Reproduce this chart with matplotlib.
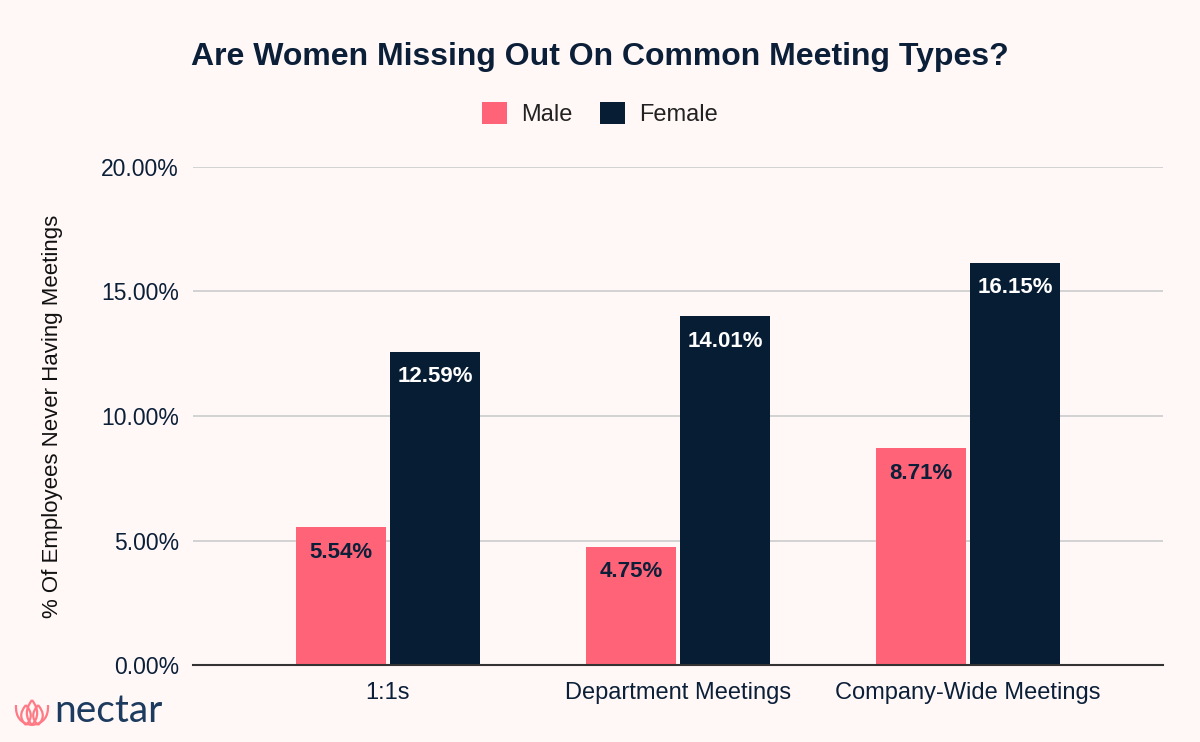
import matplotlib
matplotlib.use("Agg")
import matplotlib.pyplot as plt
import numpy as np
from matplotlib.path import Path
from matplotlib.patches import PathPatch

categories = ["1:1s", "Department Meetings", "Company-Wide Meetings"]
male = [5.54, 4.75, 8.71]
female = [12.59, 14.01, 16.15]
series_names = ["Male", "Female"]
yticks = [0, 5, 10, 15, 20]
ytick_labels = ["0.00%", "5.00%", "10.00%", "15.00%", "20.00%"]

BG = "#FFF8F7"
MALE_C = "#FF6378"
FEM_C = "#071D34"
TEXT_C = "#0B1F38"

plt.rcParams['font.family'] = ['Liberation Sans', 'DejaVu Sans']

fig = plt.figure(figsize=(12, 7.42), dpi=100, facecolor=BG)
ax = fig.add_axes([193/1200, 1-665/742, (1163-193)/1200, (665-167)/742])
ax.set_facecolor(BG)

x = np.arange(len(categories))
w = 0.31
off = 0.162
bm = ax.bar(x - off, male, w, color=MALE_C, zorder=3)
bf = ax.bar(x + off, female, w, color=FEM_C, zorder=3)

for xi, v in zip(x, male):
    ax.annotate(f"{v:.2f}%", (xi - off, v), xytext=(0, -18), textcoords="offset points",
                ha="center", va="center", fontsize=16, fontweight="bold", color=TEXT_C, zorder=4)
for xi, v in zip(x, female):
    ax.annotate(f"{v:.2f}%", (xi + off, v), xytext=(0, -18), textcoords="offset points",
                ha="center", va="center", fontsize=16, fontweight="bold", color="white", zorder=4)

ax.set_xlim(-0.672, 2.672)
ax.set_ylim(0, 20)
ax.set_yticks(yticks)
ax.set_yticklabels(ytick_labels, fontsize=16.5, color=TEXT_C)
ax.set_xticks(x)
ax.set_xticklabels(categories, fontsize=17, color=TEXT_C)
ax.tick_params(axis="y", length=0, pad=10)
ax.tick_params(axis="x", length=0, pad=12)
ax.yaxis.grid(True, color="#CCCCCC", linewidth=1.2, zorder=0)
ax.set_axisbelow(True)
for s in ["top", "right", "left"]:
    ax.spines[s].set_visible(False)
ax.spines["bottom"].set_color("#333333")
ax.spines["bottom"].set_linewidth(1.5)
ax.spines["bottom"].set_zorder(5)
ax.set_ylabel("% Of Employees Never Having Meetings", fontsize=16, color="#111111")
ax.yaxis.set_label_coords((53-193)/970, 0.5)
ax.yaxis.label.set_va("center")

fig.text(0.5, 1-57/742, "Are Women Missing Out On Common Meeting Types?", ha="center", va="center",
         fontsize=23, fontweight="bold", color=TEXT_C)

leg = fig.legend([bm, bf], series_names, loc="center", bbox_to_anchor=(0.5, 1-114/742),
                 ncol=2, frameon=False, fontsize=17, handlelength=1.05, handleheight=1.05,
                 columnspacing=1.15, handletextpad=0.6)
for t in leg.get_texts():
    t.set_color("#222222")

# logo
lax = fig.add_axes([12/1200, 1-727/742, 40/1200, 30/742])
lax.set_xlim(-20, 20)
lax.set_ylim(-2, 28)
lax.set_aspect("equal")
lax.axis("off")

def petal(cx, bottom, top, half):
    verts = [(cx, bottom), (cx - half*1.6, bottom + (top-bottom)*0.45), (cx, top),
             (cx, top), (cx + half*1.6, bottom + (top-bottom)*0.45), (cx, bottom)]
    codes = [Path.MOVETO, Path.CURVE3, Path.CURVE3, Path.MOVETO, Path.CURVE3, Path.CURVE3]
    return Path(verts, codes)

LOGO_PINK = "#FF7A85"
for cx, top, half in [(-6, 20, 6), (6, 20, 6), (0, 25, 6.5)]:
    lax.add_patch(PathPatch(petal(cx, 0, top, half), fill=False, edgecolor=LOGO_PINK, lw=1.6))
cup = Path([(-16, 20), (-17, 2), (0, 0), (0, 0), (17, 2), (16, 20)],
           [Path.MOVETO, Path.CURVE3, Path.CURVE3, Path.MOVETO, Path.CURVE3, Path.CURVE3])
lax.add_patch(PathPatch(cup, fill=False, edgecolor=LOGO_PINK, lw=1.6))

fig.text(54/1200, 1-711/742, "nectar", ha="left", va="center", fontsize=28,
         family=["Lato", "DejaVu Sans"], fontweight="normal", color="#1D3B5E")

fig.savefig("out.png", dpi=100, facecolor=BG)
